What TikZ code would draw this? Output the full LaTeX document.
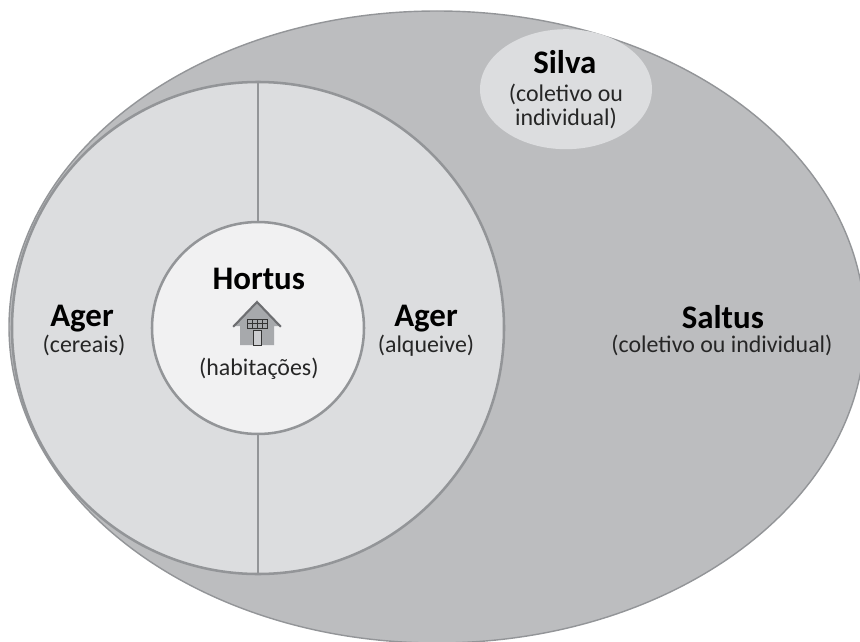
\documentclass[tikz,border=0pt]{standalone}
\usepackage{fontspec}
\setmainfont{Carlito}
\usetikzlibrary{positioning,calc,shapes.geometric}
\definecolor{saltusfill}{HTML}{BCBDBF}
\definecolor{agerfill}{HTML}{DCDDDF}
\definecolor{hortusfill}{HTML}{F1F1F2}
\definecolor{edgegray}{HTML}{939598}
\definecolor{housefill}{HTML}{A7A9AC}
\definecolor{roofgray}{HTML}{6D6E71}
\tikzset{
title/.style={font=\fontsize{23.4}{25}\selectfont\bfseries, inner sep=0pt},
sub/.style={font=\fontsize{17}{17}\selectfont, color=black!85, inner sep=0pt, align=center},
zone/.style={draw=edgegray, line width=1.8pt},
}

\begin{document}
\begin{tikzpicture}

    \useasboundingbox (0,0) rectangle (21.5,-16.05);

    \node[ellipse,draw=edgegray,line width=1pt,fill=saltusfill,minimum width=21.4cm,minimum height=15.8cm,inner sep=0pt] (saltus) at(10.925,-8.175) {};
    \node[ellipse,fill=agerfill,minimum width=4.3cm,minimum height=3cm,inner sep=0pt] (silva) at(14.15,-2.23) {};
    \node[circle,zone,fill=agerfill,minimum size=12.3cm,inner sep=0pt] (ager) at(6.45,-8.2) {};
    \node[circle,zone,fill=hortusfill,minimum size=5.3cm,inner sep=0pt] (hortus) at(6.45,-8.2) {};

    \draw[zone] (ager.north) to (hortus.north);
    \draw[zone] (hortus.south) to (ager.south);

    % casa
    \fill[housefill] (5.85,-8.15) -- (6.425,-7.55) -- (7,-8.15) -- (6.85,-8.15) -- (6.85,-8.625) -- (6,-8.625) -- (6,-8.15) -- cycle;
    \draw[roofgray,line width=1.5pt] (5.83,-8.17) -- (6.425,-7.55) -- (7.02,-8.17);
    \draw[black!80,line width=0.5pt] (6.175,-7.975) rectangle (6.675,-8.2);
    \draw[black!80,line width=0.4pt] (6.3,-7.975) -- (6.3,-8.2) (6.55,-7.975) -- (6.55,-8.2) (6.425,-7.975) -- (6.425,-8.2) (6.175,-8.09) -- (6.675,-8.09);
    \draw[black!80,line width=0.6pt,fill=agerfill!70!housefill] (6.325,-8.27) rectangle (6.525,-8.625);

    \node[title] (hortust) at(6.47,-6.98) {Hortus};
    \node[sub] (hortuss) at(6.47,-9.22) {(habitações)};
    \node[title] (agera) at(2.05,-7.97) {Ager};
    \node[sub] (agerat) at(2.1,-8.63) {(cereais)};
    \node[title] (agerb) at(10.65,-7.97) {Ager};
    \node[sub] (agerbt) at(10.65,-8.64) {(alqueive)};
    \node[title] (saltust) at(18.07,-7.92) {Saltus};
    \node[sub] (saltuss) at(18.05,-8.63) {(coletivo ou individual)};
    \node[title] (silvat) at(14.12,-1.55) {Silva};
    \node[sub] (silvas) at(14.15,-2.67) {(coletivo ou\\individual)};

\end{tikzpicture}
\end{document}
